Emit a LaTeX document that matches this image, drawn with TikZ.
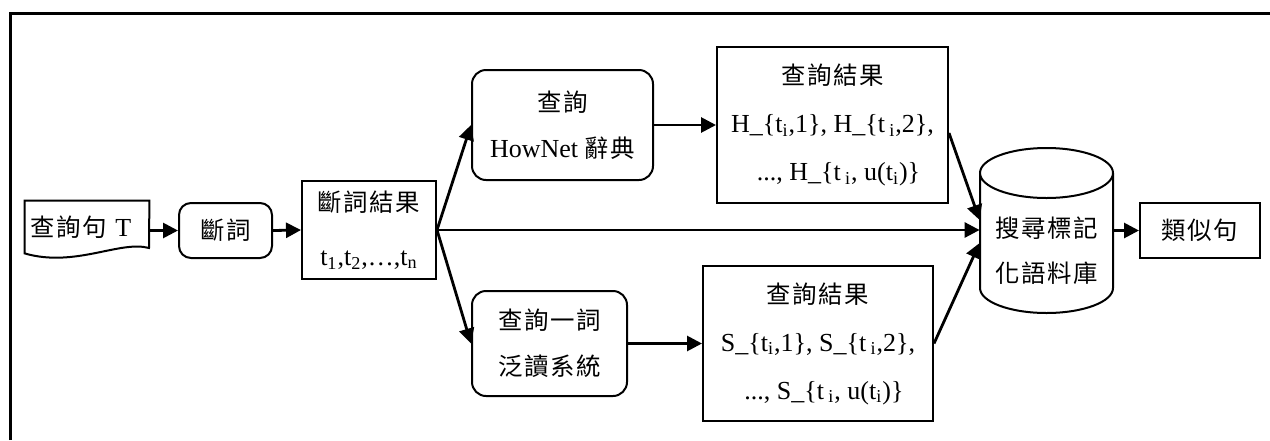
\documentclass[tikz,border=0pt]{standalone}
\usepackage{fontspec}
\setmainfont{Liberation Serif}
\newfontfamily\cjk[Scale=0.94,LetterSpace=6]{Noto Sans CJK TC}
\usetikzlibrary{arrows.meta,calc}
\begin{document}
\begin{tikzpicture}[x=0.5pt,y=-0.5pt,
  font=\fontsize{13}{24}\selectfont,
  box/.style={draw,line width=1pt,inner sep=0pt,align=center},
  rbox/.style={box,rounded corners=6pt},
  arr/.style={line width=1.4pt,-{Triangle[length=7.5pt,width=7.5pt]}},
  shapeline/.style={line width=1pt}
]
\useasboundingbox (0,0) rectangle (1270,440);
\draw[line width=1.5pt] (10,440) -- (10,13) -- (1270,13);

% document-shaped input
\node (q) [inner ysep=0pt, inner xsep=1.25pt, minimum height=26pt, text width=59.5pt, align=left] at (87,227) {\hspace*{1.5pt}{\cjk 查詢句} T};
\draw[shapeline] (q.north west) -- (q.north east) -- (149,248) .. controls (120,240) and (75,268) .. (q.south west) -- cycle;

\node (seg1) [rbox, minimum width=46.5pt, minimum height=27.5pt] at (225.5,230.5) {\cjk 斷詞};
\node (seg2) [box, minimum width=67pt, minimum height=49pt] at (369,230) {{\cjk 斷詞結果}\\[3pt] t\textsubscript{1},t\textsubscript{2},\dots,t\textsubscript{n}};

\node (hn) [rbox, rounded corners=7pt, minimum width=90.5pt, minimum height=55pt] at (562.5,125) {{\cjk 查詢}\\[-1pt]HowNet {\cjk 辭典}};
\node (hr) [box, minimum width=115.5pt, minimum height=78pt] at (832.5,125) {{\cjk 查詢結果}\\ H\_\{t\textsubscript{i},1\}, H\_\{t\,\textsubscript{i},2\},\\ \hspace*{6pt}..., H\_\{t\,\textsubscript{i}, u(t\textsubscript{i})\}};

\node (sq) [rbox, rounded corners=7pt, minimum width=77.5pt, minimum height=52.5pt] at (549.5,343.5) {{\cjk 查詢一詞}\\[-1pt]{\cjk 泛讀系統}};
\node (sr) [box, minimum width=115pt, minimum height=77.5pt] at (818,343.5) {{\cjk 查詢結果}\\ S\_\{t\textsubscript{i},1\}, S\_\{t\,\textsubscript{i},2\},\\ \hspace*{6pt}..., S\_\{t\,\textsubscript{i}, u(t\textsubscript{i})\}};

% cylinder (database)
\node (db) [inner sep=0pt, minimum width=66.5pt, align=center] at (1046.5,250.5) {{\cjk 搜尋標記}\\[-1.5pt]{\cjk 化語料庫}};
\draw[shapeline] ($(db.center)+(-66.5,-77.5)$)
  arc[start angle=180,end angle=360,x radius=33.25pt,y radius=12.5pt]
  arc[start angle=0,end angle=180,x radius=33.25pt,y radius=12.5pt]
  -- ($(db.center)+(-66.5,37.5)$)
  arc[start angle=180,end angle=360,x radius=33.25pt,y radius=12.5pt]
  -- ($(db.center)+(66.5,-77.5)$);

\node (out) [box, minimum width=60pt, minimum height=27.5pt] at (1200,230.5) {\cjk 類似句};

% connectors
\draw[arr] (seg1.west -| q.east) -- (seg1.west);
\draw[arr] (seg1.east) -- (seg2.west);
\draw[arr] (seg2.east) -- (hn.west);
\draw[arr] (seg2.east) -- (sq.west);
\draw[arr] (seg2.east) -- ($(db.west)+(0,-20.5)$);
\draw[arr] (hn.east) -- (hr.west);
\draw[arr] (sq.east) -- (sr.west);
\draw[arr] ($(hr.east)+(0,8)$) -- ($(db.west)+(0,-30.5)$);
\draw[arr] (sr.east) -- ($(db.west)+(0,-7.5)$);
\draw[arr] (out.west -| db.east) -- (out.west);
\end{tikzpicture}
\end{document}
